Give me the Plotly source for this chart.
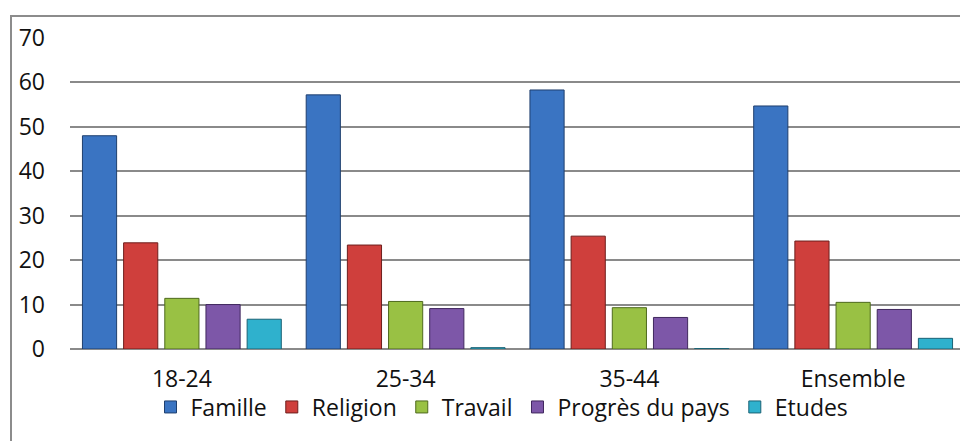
import plotly.graph_objects as go

categories = ["18-24", "25-34", "35-44", "Ensemble"]
series_names = ["Famille", "Religion", "Travail", "Progrès du pays", "Etudes"]
famille = [48.0, 57.2, 58.3, 54.7]
religion = [23.9, 23.4, 25.4, 24.3]
travail = [11.4, 10.7, 9.3, 10.5]
progres = [10.0, 9.1, 7.1, 8.9]
etudes = [6.7, 0.3, 0.1, 2.4]
y_ticks = [0, 10, 20, 30, 40, 50, 60, 70]

values = [famille, religion, travail, progres, etudes]
colors = ["#3A74C2", "#CF3F3C", "#99C144", "#7D57A8", "#2FB1CD"]
lines = ["#1F3F6E", "#6E1E1C", "#4F6A1E", "#40285E", "#1A6275"]

fig = go.Figure()
for name, vals, c, lc in zip(series_names, values, colors, lines):
    fig.add_trace(go.Bar(
        x=categories, y=vals, name=name,
        marker=dict(color=c, line=dict(color=lc, width=1)),
    ))

# page body has an 8px margin; work in screenshot pixels and shift
O = 8
W, H = 968 - O, 441 - O
L, R, T = 70 - O, 3, 38 - O
B = H - (349 - O)
pw = W - L - R
ph = H - T - B


def py(y):
    return (H - B - (y - O)) / ph


def pxx(x):
    return (x - O - L) / pw


FONT = "'Open Sans', Lato, sans-serif"
FS = 23
fig.update_layout(
    width=W, height=H,
    margin=dict(l=L, r=R, t=T, b=B, pad=0, autoexpand=False),
    paper_bgcolor="white", plot_bgcolor="white",
    barmode="group", bargap=0.08, bargroupgap=0.17,
    font=dict(family=FONT, size=FS, color="#111"),
    showlegend=True,
    legend=dict(orientation="h", x=pxx(502), xanchor="center",
                y=py(407), yanchor="middle",
                font=dict(size=FS), itemwidth=30, tracegroupgap=0,
                bgcolor="rgba(0,0,0,0)"),
    xaxis=dict(showgrid=False, showline=False, ticks="", ticklabelstandoff=14,
               tickfont=dict(size=FS)),
    yaxis=dict(range=[0, 70], tickvals=y_ticks, showgrid=True, gridcolor="#8A8A8A",
               gridwidth=1.5, zeroline=True, zerolinecolor="#8A8A8A", zerolinewidth=1.5,
               showline=False, ticks="", ticklabelstandoff=24, tickfont=dict(size=FS)),
    shapes=[dict(type="rect", xref="paper", yref="paper",
                 x0=pxx(11), x1=pxx(980),
                 y0=py(460), y1=py(16),
                 line=dict(color="#8C8C8C", width=2), fillcolor="rgba(0,0,0,0)", layer="below")],
)

fig.write_html("out.html")
